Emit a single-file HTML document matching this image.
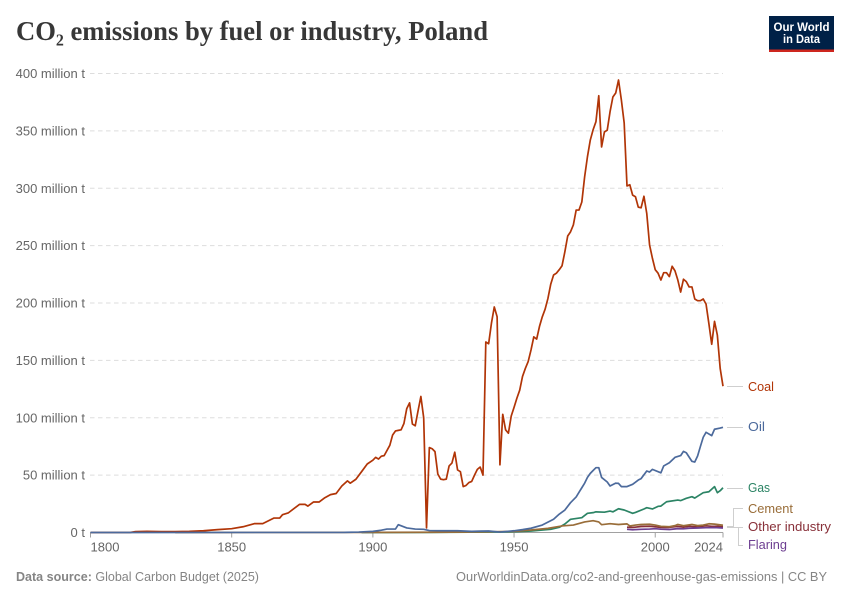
<!DOCTYPE html>
<html lang="en">
<head>
<meta charset="utf-8">
<title>CO₂ emissions by fuel or industry, Poland</title>
<style>
html,body{margin:0;padding:0;background:#fff;}
svg{display:block;font-family:"Liberation Sans",sans-serif;}
</style>
</head>
<body>
<svg id="chart" xmlns="http://www.w3.org/2000/svg" width="850" height="600" viewBox="0 0 850 600">
  <text x="16" y="40" font-family="'Liberation Serif',serif" font-weight="700" font-size="27" fill="#373737" textLength="472" lengthAdjust="spacingAndGlyphs">CO₂ emissions by fuel or industry, Poland</text>
  <g>
    <rect x="769" y="16" width="65" height="36" fill="#002147"/>
    <rect x="769" y="49.5" width="65" height="2.5" fill="#ce261e"/>
    <text x="801.5" y="31" text-anchor="middle" font-size="12" font-weight="700" fill="#fff" textLength="56" lengthAdjust="spacingAndGlyphs">Our World</text>
    <text x="801.5" y="43" text-anchor="middle" font-size="12" font-weight="700" fill="#fff" textLength="37" lengthAdjust="spacingAndGlyphs">in Data</text>
  </g>
  <g id="grid"></g>
  <g id="yticks"></g>
  <g id="xaxis"></g>
  <g id="series"></g>
  <g fill="none" stroke="#cfcfcf" stroke-width="1">
    <path d="M727 386.5H743"/>
    <path d="M727 427.5H743"/>
    <path d="M727 488.5H743"/>
    <path d="M727 526.5H733.5V508.5H743"/>
    <path d="M727 527.5H743"/>
    <path d="M727 527.5H738.5V545.5H743"/>
  </g>
  <g font-size="12.5">
    <text x="748" y="391" fill="#b13507" textLength="26" lengthAdjust="spacingAndGlyphs">Coal</text>
    <text x="748" y="431" fill="#4c6a9c" textLength="17" lengthAdjust="spacingAndGlyphs">Oil</text>
    <text x="748" y="492" fill="#2c8465" textLength="22" lengthAdjust="spacingAndGlyphs">Gas</text>
    <text x="748" y="513" fill="#996d39" textLength="45" lengthAdjust="spacingAndGlyphs">Cement</text>
    <text x="748" y="531" fill="#883039" textLength="83" lengthAdjust="spacingAndGlyphs">Other industry</text>
    <text x="748" y="549" fill="#6d3e91" textLength="39" lengthAdjust="spacingAndGlyphs">Flaring</text>
  </g>
  <text x="16" y="581" font-size="12.5" fill="#858585" textLength="243" lengthAdjust="spacingAndGlyphs"><tspan font-weight="700">Data source:</tspan> Global Carbon Budget (2025)</text>
  <text x="827" y="581" text-anchor="end" font-size="12.5" fill="#858585" textLength="371" lengthAdjust="spacingAndGlyphs">OurWorldinData.org/co2-and-greenhouse-gas-emissions | CC BY</text>
</svg>
<script>
const yTickValues = [0, 50, 100, 150, 200, 250, 300, 350, 400];
const yTickLabels = ["0 t", "50 million t", "100 million t", "150 million t", "200 million t", "250 million t", "300 million t", "350 million t", "400 million t"];
const xTickYears = [1800, 1850, 1900, 1950, 2000, 2024];
const xTickLabels = ["1800", "1850", "1900", "1950", "2000", "2024"];

const coalYears = [1800,1814,1816,1820,1825,1830,1835,1840,1845,1850,1854,1858,1861,1865,1867,1868,1870,1874,1876,1877,1879,1881,1883,1885,1887,1889,1891,1892,1894,
  1896,1898,1900,1901,1902,1903,1904,1906,1907,1908,1909,1910,1911,1912,1913,1914,1915,1916,1917,1918,1919,1920,1921,1922,1923,1924,1925,1926,1927,1928,1929,1930,1931,1932,1933,1934,1935,1936,1937,1938,1939,1940,1941,1942,1943,1944,1945,1946,1947,1948,1949,1950,1951,1952,1953,1954,1955,1956,1957,1958,1959,1960,
  1961,1962,1963,1964,1965,1966,1967,1968,1969,1970,1971,1972,1973,1974,1975,1976,1977,1978,1979,1980,1981,1982,1983,1984,1985,1986,1987,1988,1989,1990,1991,1992,1993,1994,1995,1996,1997,1998,1999,2000,2001,2002,2003,2004,2005,2006,2007,2008,2009,2010,2011,2012,2013,2014,2015,2016,2017,2018,2019,2020,2021,2022,2023,2024];
const coalValues = [0,0,0.8,1,0.8,0.8,1,1.5,2.5,3.3,5,7.7,7.7,12.6,12.6,15.5,17,24.5,24.5,23,26.6,26.6,30.3,33,34,40.5,45,43,46.4,
  53,59.7,63,65.5,64,66.5,67,76,85,88.5,89,89.5,95,108,113,94.5,93,106,118.5,100,4,74,73,70.5,51,46.5,46,46.5,58,60.5,70,54.5,53,40,41,43.5,44.5,50,55,57,50,166,164.5,182.5,196.5,188,59,103,89.5,86.5,101.5,109,117,124,136,143,149,159,170.5,168.5,179.5,188,
  194.6,204,216.5,224.4,226,229,232.5,244.7,258.4,262,268,281,281,288,310,327.5,342,351,358,380.6,336,349,350.6,366.7,379.5,383,394.3,377,357,302,303,294,292.6,283.5,283,293,278,250.5,239,229,226,220,226.4,226.4,223,232,228,220,209.5,220.7,218.6,214,214,203.5,202,202,203.5,199,182,164,184,172,143,127.5];

const oilYears = [1800,1890,1895,1900,1903,1905,1908,1909,1912,1915,1918,1920,1925,1930,1935,1938,1941,1945,1950,1953,1956,1960,1964,1966,1968,1970,1972,1973,1974,1975,1976,1977,1978,1979,1980,1981,1983,1984,1986,1987,1988,1990,1992,1994,1995,1997,1998,1999,2002,2003,2005,2007,2009,2010,2011,2013,2014,2015,2016,2017,2018,2020,2021,2023,2024];
const oilValues = [0,0.1,0.4,1,2,3,3,6.8,4,3,2.8,1.7,1.5,1.5,1,1.2,1.3,0.4,1.5,2.5,3.7,6.5,11.5,16,19.6,26,31,35,39,43,48,51.5,54,56.5,56.5,48,44,40.5,43,42.8,40,40,42,45.7,47,53.6,52.7,55,52,58,60.8,65.5,67,70.7,69.5,62,61.4,66.7,75,83,87.3,84.4,90,91,91.7];

const gasYears = [1896,1920,1950,1956,1963,1966,1968,1970,1974,1976,1978,1979,1982,1984,1985,1987,1989,1992,1993,1996,1997,1999,2001,2002,2004,2008,2009,2011,2013,2014,2017,2019,2021,2022,2023,2024];
const gasValues = [0,0.1,0.6,1.3,2.8,4.5,7.4,11.5,12.9,16.7,17.3,18,17.7,18.7,18,20.7,19.6,16.7,17.5,20.5,21.6,20.5,22.8,23,26.8,28.3,27.8,29.8,31.2,30,34.7,35.5,40,34.7,36.4,39];

const cementYears = [1830,1900,1920,1935,1950,1956,1962,1967,1971,1975,1978,1980,1981,1984,1987,1990,1991,1993,1995,1998,2000,2002,2005,2007,2008,2010,2013,2015,2017,2019,2021,2024];
const cementValues = [0,0.1,0.2,0.4,1,2.2,3.6,5.7,6.5,9.2,10.3,9.2,6.8,7.7,7,7.5,5.7,6.5,7,7.2,6.5,5.4,5,6,7,5.9,7,6,6.5,7.6,7.3,6.3];

const otherIndustryYears = [1990,1992,1995,1998,2000,2002,2005,2008,2010,2012,2014,2016,2018,2020,2022,2024];
const otherIndustryValues = [4.6,4.4,5.2,5.4,5,4.4,4.5,5.3,4.7,5.4,5,5.3,5.8,5.4,5.4,5];

const flaringYears = [1990,1992,1995,1998,2000,2002,2005,2008,2010,2012,2015,2018,2021,2024];
const flaringValues = [2.8,2.4,2.8,3,3.3,2.9,2.6,3.4,3.2,3.7,3.9,4.2,4.3,3.9];

const SVG_NS = "http://www.w3.org/2000/svg";
function xScale(year) { return 90.5 + (year - 1800) * (723 - 90.5) / 224; }
function yScale(value) { return 532.5 - value * (532.5 - 73.5) / 400; }
function linePath(years, values) {
  return years.map(function (year, i) {
    return (i ? "L" : "M") + xScale(year).toFixed(2) + " " + yScale(values[i]).toFixed(2);
  }).join("");
}

const gridGroup = document.getElementById("grid");
const yTickGroup = document.getElementById("yticks");
yTickValues.forEach(function (value, i) {
  if (value !== 0) {
    const gridLine = document.createElementNS(SVG_NS, "line");
    
    
    gridLine.setAttribute("x1", 90);
    gridLine.setAttribute("x2", 723);
    gridLine.setAttribute("y1", yScale(value));
    gridLine.setAttribute("y2", yScale(value));
    gridLine.setAttribute("stroke", "#dddddd");
    gridLine.setAttribute("stroke-dasharray", "4.5,3.5");
    gridGroup.appendChild(gridLine);
  }
  const yLabel = document.createElementNS(SVG_NS, "text");
  
  
  yLabel.setAttribute("x", 85);
  yLabel.setAttribute("y", yScale(value) + 4.5);
  yLabel.setAttribute("text-anchor", "end");
  yLabel.setAttribute("font-size", "13");
  yLabel.setAttribute("fill", "#666666");
  yLabel.textContent = yTickLabels[i];
  yTickGroup.appendChild(yLabel);
});

const xAxisGroup = document.getElementById("xaxis");
const axisLine = document.createElementNS(SVG_NS, "line");


axisLine.setAttribute("x1", 90);
axisLine.setAttribute("x2", 723);
axisLine.setAttribute("y1", 532.5);
axisLine.setAttribute("y2", 532.5);
axisLine.setAttribute("stroke", "#a1a1a1");
xAxisGroup.appendChild(axisLine);
xTickYears.forEach(function (year, i) {
  const tick = document.createElementNS(SVG_NS, "line");
  
  
  tick.setAttribute("x1", xScale(year));
  tick.setAttribute("x2", xScale(year));
  tick.setAttribute("y1", 532.5);
  tick.setAttribute("y2", 537.5);
  tick.setAttribute("stroke", "#a1a1a1");
  xAxisGroup.appendChild(tick);
  const xLabel = document.createElementNS(SVG_NS, "text");
  
  
  const isFirst = i === 0;
  const isLast = i === xTickYears.length - 1;
  xLabel.setAttribute("x", isFirst ? 90.5 : xScale(year));
  xLabel.setAttribute("y", 551.5);
  xLabel.setAttribute("text-anchor", isFirst ? "start" : isLast ? "end" : "middle");
  xLabel.setAttribute("font-size", "13");
  xLabel.setAttribute("fill", "#666666");
  xLabel.textContent = xTickLabels[i];
  xAxisGroup.appendChild(xLabel);
});

const seriesGroup = document.getElementById("series");
function drawSeries(years, values, color) {
  const line = document.createElementNS(SVG_NS, "path");
  
  
  line.setAttribute("d", linePath(years, values));
  line.setAttribute("fill", "none");
  line.setAttribute("stroke", color);
  line.setAttribute("stroke-width", "1.7");
  line.setAttribute("stroke-linejoin", "round");
  seriesGroup.appendChild(line);
}
drawSeries(otherIndustryYears, otherIndustryValues, "#883039");
drawSeries(flaringYears, flaringValues, "#6d3e91");
drawSeries(gasYears, gasValues, "#2c8465");
drawSeries(cementYears, cementValues, "#996d39");
drawSeries(coalYears, coalValues, "#b13507");
drawSeries(oilYears, oilValues, "#4c6a9c");
</script>
</body>
</html>
